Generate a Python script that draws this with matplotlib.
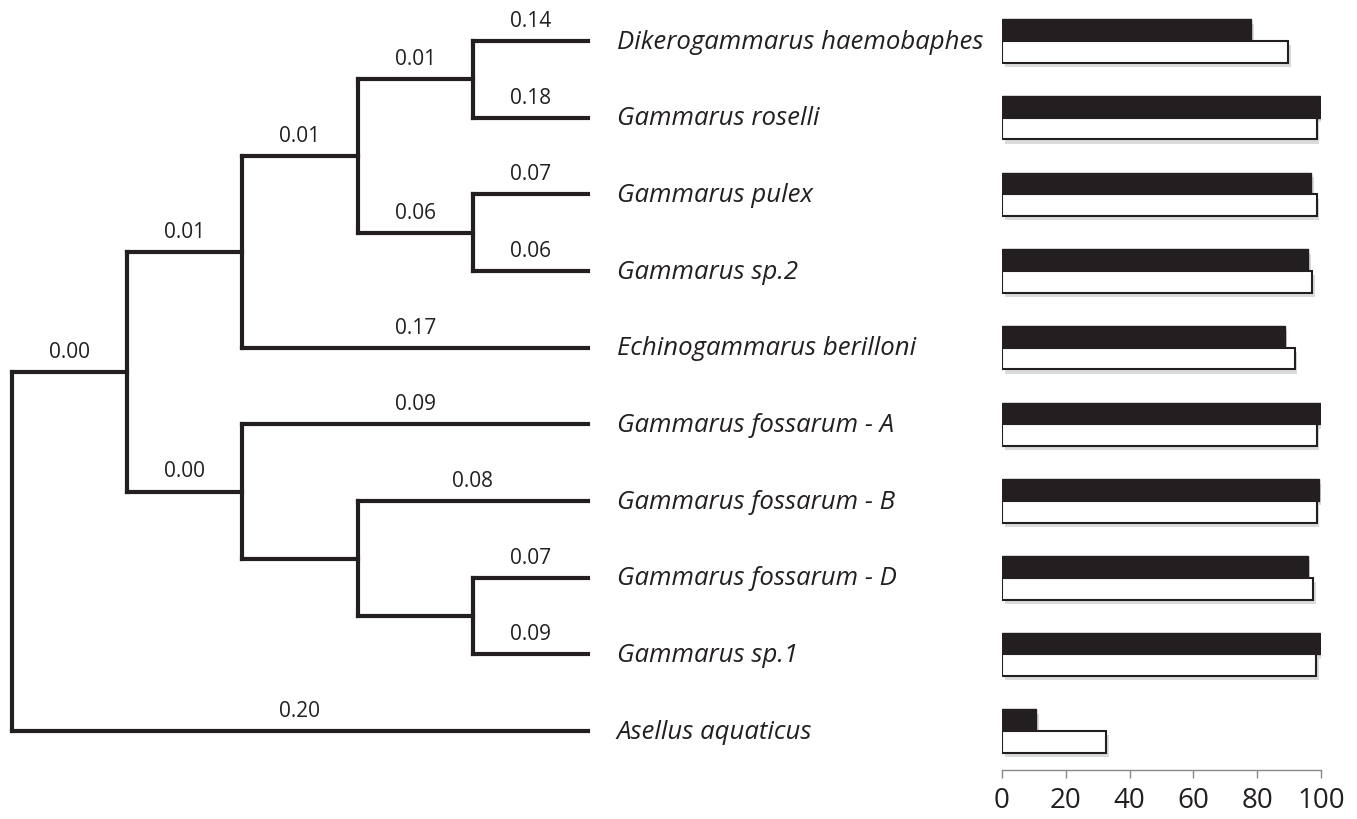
import matplotlib
matplotlib.use('Agg')
import matplotlib.pyplot as plt
import matplotlib.patheffects as pe

plt.rcParams['font.family'] = ['Open Sans', 'DejaVu Sans']

# species, top to bottom
SPECIES = ['Dikerogammarus haemobaphes', 'Gammarus roselli', 'Gammarus pulex',
           'Gammarus sp.2', 'Echinogammarus berilloni', 'Gammarus fossarum - A',
           'Gammarus fossarum - B', 'Gammarus fossarum - D', 'Gammarus sp.1',
           'Asellus aquaticus']

# bar values (black / white series)
BLACK_VALUES = [78, 99.7, 96.9, 96, 88.6, 99.7, 99.5, 95.8, 99.6, 10.7]
WHITE_VALUES = [89.7, 98.6, 98.6, 97.2, 91.7, 98.6, 98.6, 97.6, 98.4, 32.6]
X_TICKS = [0, 20, 40, 60, 80, 100]

# tree: leaf = (leaf index, branch label); node = (list of children, branch label)
TREE = ([
    ([
        ([
            ([(0, '0.14'), (1, '0.18')], '0.01'),
            ([(2, '0.07'), (3, '0.06')], '0.06'),
        ], '0.01'),
        (4, '0.17'),
    ], '0.01'),
    ([
        (5, '0.09'),
        ([
            (6, '0.08'),
            ([(7, '0.07'), (8, '0.09')], None),
        ], None),
    ], '0.00'),
], '0.00'), (9, '0.20')

LINE_COLOR = '#231f20'
TIP_DEPTH = 5


def layout(node, depth, out):
    """ returns y of the node; appends (x0, x1, y, label) branches to out """
    children, label = node
    if isinstance(children, int):
        return children, TIP_DEPTH
    ys = []
    for child in children:
        cy, cx = layout(child, depth + 1, out)
        out.append((depth, cx, cy, child[1]))
        ys.append(cy)
    out.append(('v', depth, min(ys), max(ys)))
    return (min(ys) + max(ys)) / 2, depth


fig = plt.figure(figsize=(13.57, 8.2), dpi=100)
bottom = 1 - 770.5 / 820
height = (770.5 - 3.7) / 820

# tree axis
ax_t = fig.add_axes([0, bottom, 990 / 1357, height])
ax_t.set_xlim(-12 / 115.2, 978 / 115.2)
ax_t.set_ylim(9.5, -0.5)
ax_t.axis('off')

branches = []
root = (list(TREE), None)
layout(root, 0, branches)
for b in branches:
    if b[0] == 'v':
        ax_t.plot([b[1], b[1]], [b[2], b[3]], color=LINE_COLOR, lw=3,
                  solid_capstyle='projecting')
    else:
        x0, x1, y, label = b
        ax_t.plot([x0, x1], [y, y], color=LINE_COLOR, lw=3, solid_capstyle='projecting')
        if label is not None:
            ax_t.text((x0 + x1) / 2, y - 0.27, label, ha='center', va='center',
                      fontsize=15, color=LINE_COLOR)

for i, name in enumerate(SPECIES):
    ax_t.text(5.25, i, name, ha='left', va='center', fontsize=18.5,
              style='italic', color=LINE_COLOR)

# bar axis
ax_b = fig.add_axes([1002 / 1357, bottom, 319 / 1357, height])
ys = list(range(len(SPECIES)))
bar_h = 0.283
shadow = [pe.SimplePatchShadow(offset=(2, -3), shadow_rgbFace='#999999', alpha=0.35),
          pe.Normal()]
ax_b.barh([y - bar_h / 2 for y in ys], BLACK_VALUES, height=bar_h, color='#231f20',
          edgecolor='#231f20', lw=1, path_effects=shadow, zorder=2)
ax_b.barh([y + bar_h / 2 for y in ys], WHITE_VALUES, height=bar_h, color='white',
          edgecolor='#231f20', lw=1.5, path_effects=shadow, zorder=3)
ax_b.set_xlim(0, 100)
ax_b.set_ylim(9.5, -0.5)
ax_b.set_xticks(X_TICKS)
ax_b.set_yticks([])
for s in ['top', 'right', 'left']:
    ax_b.spines[s].set_visible(False)
ax_b.spines['bottom'].set_color('#888888')
ax_b.spines['bottom'].set_linewidth(1)
ax_b.tick_params(axis='x', direction='out', length=6, width=1, color='#888888',
                 labelsize=20, labelcolor=LINE_COLOR, pad=6)
ax_b.set_clip_on(False)

fig.savefig('out.png', dpi=100)
